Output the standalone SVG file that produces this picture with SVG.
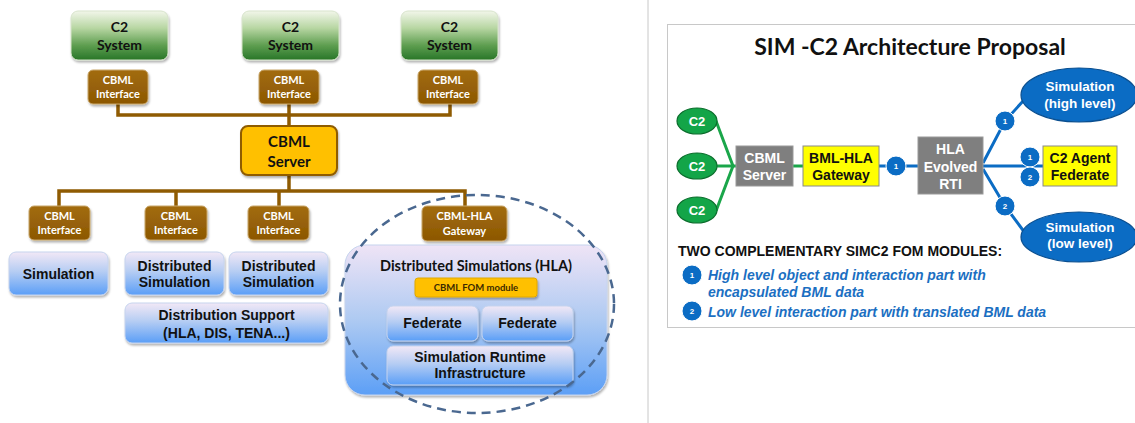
<svg xmlns="http://www.w3.org/2000/svg" width="1135" height="423" viewBox="0 0 1135 423">
<defs>
<linearGradient id="gGreen" x1="0" y1="0" x2="0" y2="1">
<stop offset="0" stop-color="#f2f6ea"/><stop offset="0.35" stop-color="#b7d6a2"/><stop offset="0.7" stop-color="#5e9e50"/><stop offset="1" stop-color="#287628"/>
</linearGradient>
<linearGradient id="gBrown" x1="0" y1="0" x2="0" y2="1">
<stop offset="0" stop-color="#a26c12"/><stop offset="1" stop-color="#8c5700"/>
</linearGradient>
<linearGradient id="gBlue" x1="0" y1="0" x2="0" y2="1">
<stop offset="0" stop-color="#f2e8f6"/><stop offset="0.45" stop-color="#b6cdf3"/><stop offset="1" stop-color="#5a9ef7"/>
</linearGradient>
<linearGradient id="gBig" x1="0" y1="0" x2="0" y2="1">
<stop offset="0" stop-color="#efe4f6"/><stop offset="0.5" stop-color="#aecaf2"/><stop offset="1" stop-color="#5c9ff6"/>
</linearGradient>
<filter id="sh" x="-10%" y="-10%" width="125%" height="130%">
<feDropShadow dx="1" dy="2" stdDeviation="1.2" flood-color="#000" flood-opacity="0.3"/>
</filter>
</defs>
<style>
.c2sys{fill:url(#gGreen);stroke:#d8e4cc;stroke-width:1}
.ifc{fill:url(#gBrown);stroke:#c9a76a;stroke-width:1}
.blue{fill:url(#gBlue);stroke:#c6d4ee;stroke-width:1}
.cal{font-family:Lato,"Open Sans",sans-serif;font-weight:bold;text-anchor:middle}
.ari{font-family:"Liberation Sans",Arial,sans-serif;font-weight:bold;text-anchor:middle}
.t13{font-size:14px;fill:#111}
.t10{font-size:11px;fill:#fff}
.t14{font-size:14px;fill:#111}
.w14{font-size:14px;fill:#fff}
.brl{fill:none;stroke:#8f5b02;stroke-width:3.5}
.gl{fill:none;stroke:#1aa64a;stroke-width:3}
.bl{fill:none;stroke:#0b6cc4;stroke-width:3}
.num{fill:#0b6cc4;stroke:#fff;stroke-width:1}
.numt{font-family:"Liberation Sans",Arial,sans-serif;font-weight:bold;font-size:8px;fill:#fff;text-anchor:middle}
.gray{fill:#7f7f7f;stroke:#9a9a9a;stroke-width:1}
.yel{fill:#ffff00;stroke:#8a8a8a;stroke-width:1}
.c2e{fill:#13a548;stroke:#0b6e2c;stroke-width:1.2}
.sime{fill:#0b6cc4;stroke:#0a4f90;stroke-width:1.2}
</style>
<rect x="0" y="0" width="1135" height="423" fill="#ffffff"/>
<line x1="648" y1="0" x2="648" y2="423" stroke="#c8c8c8" stroke-width="1"/>

<g id="connectors">
<polyline class="brl" points="118,104 118,115 450,115 450,104"/>
<line class="brl" x1="289" y1="104" x2="289" y2="126"/>
<polyline class="brl" points="59,206 59,191 465,191 465,206"/>
<line class="brl" x1="289" y1="175" x2="289" y2="191"/>
<line class="brl" x1="176" y1="191" x2="176" y2="206"/>
<line class="brl" x1="279" y1="191" x2="279" y2="206"/>
<polyline class="gl" points="716,121 733,166 716,211"/>
<line class="gl" x1="717" y1="166" x2="737" y2="166"/>
<line class="gl" x1="793" y1="166" x2="803" y2="166"/>
<line class="bl" x1="879" y1="166" x2="918" y2="166"/>
<polyline class="bl" points="983,163 1005,121 1024,100"/>
<polyline class="bl" points="983,169 1005,206 1025,233"/>
<line class="bl" x1="983" y1="166" x2="1043" y2="166"/>
</g>

<g id="c2sys1"><rect class="c2sys" x="71" y="11" width="97" height="49" rx="7" filter="url(#sh)"/><text class="cal t13" x="119.5" y="32">C2</text><text class="cal t13" x="119.5" y="50">System</text></g>
<g id="c2sys2"><rect class="c2sys" x="242" y="11" width="97" height="49" rx="7" filter="url(#sh)"/><text class="cal t13" x="290.5" y="32">C2</text><text class="cal t13" x="290.5" y="50">System</text></g>
<g id="c2sys3"><rect class="c2sys" x="401" y="11" width="97" height="49" rx="7" filter="url(#sh)"/><text class="cal t13" x="449.5" y="32">C2</text><text class="cal t13" x="449.5" y="50">System</text></g>

<g id="ifc1"><rect class="ifc" x="88" y="70" width="60" height="34" rx="5" filter="url(#sh)"/><text class="cal t10" x="118" y="84">CBML</text><text class="cal t10" x="118" y="98">Interface</text></g>
<g id="ifc2"><rect class="ifc" x="259" y="70" width="60" height="34" rx="5" filter="url(#sh)"/><text class="cal t10" x="289" y="84">CBML</text><text class="cal t10" x="289" y="98">Interface</text></g>
<g id="ifc3"><rect class="ifc" x="418" y="70" width="60" height="34" rx="5" filter="url(#sh)"/><text class="cal t10" x="448" y="84">CBML</text><text class="cal t10" x="448" y="98">Interface</text></g>

<g id="server"><rect x="241" y="126" width="96" height="49" rx="7" fill="#ffc000" stroke="#8f5b02" stroke-width="2" filter="url(#sh)"/><text class="cal" x="289" y="147" font-size="15" fill="#111">CBML</text><text class="cal" x="289" y="167" font-size="15" fill="#111">Server</text></g>

<g id="ifc4"><rect class="ifc" x="29" y="206" width="61" height="34" rx="5" filter="url(#sh)"/><text class="cal t10" x="59.5" y="220">CBML</text><text class="cal t10" x="59.5" y="234">Interface</text></g>
<g id="ifc5"><rect class="ifc" x="145" y="206" width="62" height="34" rx="5" filter="url(#sh)"/><text class="cal t10" x="176" y="220">CBML</text><text class="cal t10" x="176" y="234">Interface</text></g>
<g id="ifc6"><rect class="ifc" x="248" y="206" width="61" height="34" rx="5" filter="url(#sh)"/><text class="cal t10" x="278.5" y="220">CBML</text><text class="cal t10" x="278.5" y="234">Interface</text></g>
<g id="gateway"><rect class="ifc" x="422" y="206" width="85" height="35" rx="5" filter="url(#sh)"/><text class="cal t10" x="464.5" y="220">CBML-HLA</text><text class="cal t10" x="464.5" y="235">Gateway</text></g>

<g id="sim1"><rect class="blue" x="9" y="252" width="99" height="43" rx="7" filter="url(#sh)"/><text class="ari t14" x="58.5" y="279">Simulation</text></g>
<g id="dsim1"><rect class="blue" x="125" y="252" width="99" height="43" rx="7" filter="url(#sh)"/><text class="ari t14" x="174.5" y="271">Distributed</text><text class="ari t14" x="174.5" y="287">Simulation</text></g>
<g id="dsim2"><rect class="blue" x="229" y="252" width="99" height="43" rx="7" filter="url(#sh)"/><text class="ari t14" x="278.5" y="271">Distributed</text><text class="ari t14" x="278.5" y="287">Simulation</text></g>
<g id="support"><rect class="blue" x="125" y="303" width="203" height="40" rx="7" filter="url(#sh)"/><text class="ari t14" x="226.5" y="320">Distribution Support</text><text class="ari t14" x="226.5" y="338">(HLA, DIS, TENA...)</text></g>

<g id="hla">
<rect x="345" y="245" width="262" height="150" rx="20" fill="url(#gBig)" stroke="#c6d4ee" stroke-width="1" filter="url(#sh)"/>
<text class="cal" x="476" y="271" font-size="14.5" fill="#111">Distributed Simulations (HLA)</text>
<g id="fom"><rect x="415" y="278" width="122" height="19" rx="3" fill="#ffc000" stroke="#e0a800" stroke-width="1" filter="url(#sh)"/><text class="cal" x="476" y="291" font-size="9.5" fill="#3a2a00">CBML FOM module</text></g>
<g id="fed1"><rect class="blue" x="387" y="306" width="91" height="35" rx="6" filter="url(#sh)"/><text class="ari t14" x="432.5" y="328">Federate</text></g>
<g id="fed2"><rect class="blue" x="482" y="306" width="91" height="35" rx="6" filter="url(#sh)"/><text class="ari t14" x="527.5" y="328">Federate</text></g>
<g id="rti"><rect class="blue" x="387" y="346" width="186" height="39" rx="6" filter="url(#sh)"/><text class="ari t14" x="480" y="362">Simulation Runtime</text><text class="ari t14" x="480" y="378">Infrastructure</text></g>
</g>
<ellipse cx="477" cy="304" rx="137" ry="109" fill="none" stroke="#4a6890" stroke-width="2.5" stroke-dasharray="9 6"/>

<rect x="667.5" y="24.5" width="480" height="303" fill="none" stroke="#c8c8c8" stroke-width="1"/>
<text class="cal" x="910" y="55" font-size="23" fill="#111">SIM -C2 Architecture Proposal</text>

<g id="c2a"><ellipse class="c2e" cx="697" cy="121" rx="20" ry="13"/><text class="ari" x="697" y="126" font-size="13" fill="#fff">C2</text></g>
<g id="c2b"><ellipse class="c2e" cx="697" cy="166" rx="20" ry="13"/><text class="ari" x="697" y="171" font-size="13" fill="#fff">C2</text></g>
<g id="c2c"><ellipse class="c2e" cx="697" cy="210" rx="20" ry="13"/><text class="ari" x="697" y="215" font-size="13" fill="#fff">C2</text></g>

<g id="cbmlsrv"><rect class="gray" x="736" y="146" width="57" height="40"/><text class="ari w14" x="764.5" y="163">CBML</text><text class="ari w14" x="764.5" y="180">Server</text></g>
<g id="bmlgw"><rect class="yel" x="803" y="146" width="76" height="40"/><text class="ari t14" x="841" y="163">BML-HLA</text><text class="ari t14" x="841" y="180">Gateway</text></g>
<g id="n1a"><circle class="num" cx="896" cy="166" r="10"/><text class="numt" x="896" y="169">1</text></g>
<g id="rtiR"><rect class="gray" x="918" y="137" width="65" height="57"/><text class="ari w14" x="950.5" y="154">HLA</text><text class="ari w14" x="950.5" y="172">Evolved</text><text class="ari w14" x="950.5" y="189">RTI</text></g>
<g id="n1b"><circle class="num" cx="1005" cy="121" r="10"/><text class="numt" x="1005" y="124">1</text></g>
<g id="n2b"><circle class="num" cx="1005" cy="206" r="10"/><text class="numt" x="1005" y="209">2</text></g>
<g id="n1c"><circle class="num" cx="1030" cy="157" r="10"/><text class="numt" x="1030" y="160">1</text></g>
<g id="n2c"><circle class="num" cx="1030" cy="177" r="10"/><text class="numt" x="1030" y="180">2</text></g>
<g id="agent"><rect class="yel" x="1043" y="146" width="74" height="40"/><text class="ari t14" x="1080" y="163">C2 Agent</text><text class="ari t14" x="1080" y="180">Federate</text></g>
<g id="simhigh"><ellipse class="sime" cx="1079" cy="95" rx="58" ry="27"/><text class="ari" x="1080" y="91" font-size="13.5" fill="#fff">Simulation</text><text class="ari" x="1080" y="108" font-size="13.5" fill="#fff">(high level)</text></g>
<g id="simlow"><ellipse class="sime" cx="1079" cy="237" rx="58" ry="25"/><text class="ari" x="1080" y="232" font-size="13.5" fill="#fff">Simulation</text><text class="ari" x="1080" y="248" font-size="13.5" fill="#fff">(low level)</text></g>

<text x="678" y="256" font-family="Liberation Sans, Arial, sans-serif" font-weight="bold" font-size="14" fill="#111" letter-spacing="0">TWO COMPLEMENTARY SIMC2 FOM MODULES:</text>
<g id="leg1"><circle class="num" cx="692" cy="275" r="10"/><text class="numt" x="692" y="278">1</text></g>
<g id="leg2"><circle class="num" cx="692" cy="311" r="10"/><text class="numt" x="692" y="314">2</text></g>
<g font-family="Liberation Sans, Arial, sans-serif" font-weight="bold" font-style="italic" font-size="14" fill="#1b6fc2">
<text x="708" y="280">High level object and interaction part with</text>
<text x="708" y="297">encapsulated BML data</text>
<text x="708" y="317">Low level interaction part with translated BML data</text>
</g>
</svg>
